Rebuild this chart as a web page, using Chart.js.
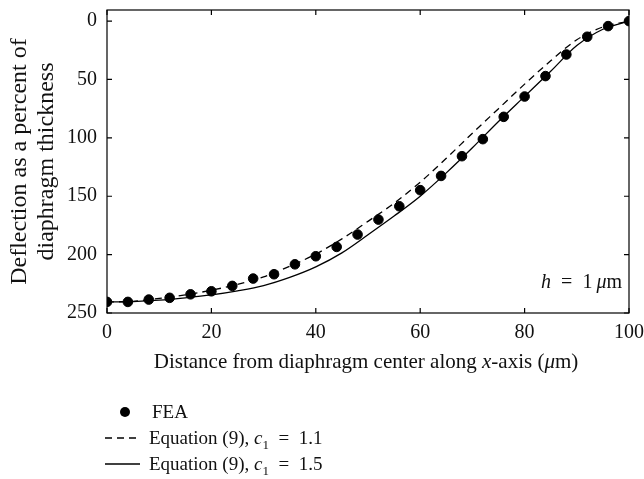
<!DOCTYPE html>
<html>
<head>
<meta charset="utf-8">
<script src="https://cdn.jsdelivr.net/npm/chart.js@4.4.1/dist/chart.umd.min.js"></script>
<style>
  body { margin: 0; background: #fff; }
  #wrap { position: relative; width: 644px; height: 479px; }
  #legend { position: absolute; left: 100px; top: 399px; font: 19px 'Liberation Serif', serif; color: #111; }
  .row { position: relative; height: 26px; line-height: 26px; white-space: nowrap; }
  .key { position: absolute; left: 4px; top: 0; width: 36px; height: 26px; }
  .txt { position: absolute; left: 49px; top: 0; }
  .dot { position: absolute; left: 16px; top: 8px; width: 10px; height: 10px; border-radius: 50%; background: #000; }
  sub { font-size: 13px; line-height: 0; }
</style>
</head>
<body>
<div id="wrap">
  <canvas id="myChart" width="644" height="479"></canvas>
  <div id="legend">
    <div class="row"><span class="key"><span class="dot"></span></span><span class="txt" style="left:52px">FEA</span></div>
    <div class="row"><span class="key"><svg width="36" height="26"><line x1="1" y1="13" x2="36" y2="13" stroke="#000" stroke-width="1.3" stroke-dasharray="7,5"/></svg></span><span class="txt">Equation (9), <i>c</i><sub>1</sub>&nbsp; = &nbsp;1.1</span></div>
    <div class="row"><span class="key"><svg width="36" height="26"><line x1="1" y1="13" x2="36" y2="13" stroke="#000" stroke-width="1.3"/></svg></span><span class="txt">Equation (9), <i>c</i><sub>1</sub>&nbsp; = &nbsp;1.5</span></div>
  </div>
</div>
<script>
let ctx = document.getElementById('myChart').getContext('2d');

// FEA nodes every 4 um
let feaX = [0, 4, 8, 12, 16, 20, 24, 28, 32, 36, 40, 44, 48, 52, 56, 60, 64, 68, 72, 76, 80, 84, 88, 92, 96, 100];
let feaY = [240.5, 240.5, 238.5, 237, 234, 231.4, 226.8, 220.5, 216.8, 208.3, 201.4, 193.4, 182.8, 170, 158.6, 144.8, 132.6, 115.7, 101.1, 82, 64.6, 47.1, 28.6, 13.4, 4.3, 0];

// equation (9) curves
let eqX = [0, 5, 10, 15, 20, 25, 30, 35, 40, 45, 50, 55, 60, 65, 70, 75, 80, 85, 90, 95, 100];
let eqC11 = [240.5, 240, 237.5, 234.5, 230.5, 225.5, 219, 210, 199.5, 186.5, 171.5, 156, 138, 117.5, 96, 75, 54, 34, 16, 5, 0];
let eqC15 = [240.5, 240.2, 239, 237, 234.5, 231, 226.5, 219.5, 210.5, 198.5, 183, 167, 150, 130, 108.5, 86, 64.5, 43, 21, 7, 0];

let xTicks = [0, 20, 40, 60, 80, 100];
let yTicks = [0, 50, 100, 150, 200, 250];

function pts(xs, ys) {
    return xs.map((x, i) => ({ x: x, y: ys[i] }));
}

let serif = "'Liberation Serif', serif";

// writes a run of [text, style] pieces starting at x
function drawRich(c, parts, x, y, size) {
    parts.forEach(p => {
        c.font = p[1] + size + 'px ' + serif;
        c.fillText(p[0], x, y);
        x += c.measureText(p[0]).width;
    });
}
function richWidth(c, parts, size) {
    let w = 0;
    parts.forEach(p => {
        c.font = p[1] + size + 'px ' + serif;
        w += c.measureText(p[0]).width;
    });
    return w;
}

// inward ticks on all four sides, frame, x title and h label
let framePlugin = {
    id: 'frame',
    afterDraw(chart) {
        let c = chart.ctx;
        let a = chart.chartArea;
        let xs = chart.scales.x;
        let ys = chart.scales.y;
        c.save();
        c.strokeStyle = '#000';
        c.lineWidth = 1.2;
        c.strokeRect(a.left, a.top, a.right - a.left, a.bottom - a.top);
        c.beginPath();
        xTicks.forEach(v => {
            let px = xs.getPixelForValue(v);
            c.moveTo(px, a.bottom); c.lineTo(px, a.bottom - 5);
            c.moveTo(px, a.top); c.lineTo(px, a.top + 5);
        });
        yTicks.forEach(v => {
            let py = ys.getPixelForValue(v);
            c.moveTo(a.left, py); c.lineTo(a.left + 5, py);
            c.moveTo(a.right, py); c.lineTo(a.right - 5, py);
        });
        c.stroke();

        c.fillStyle = '#111';
        c.textBaseline = 'middle';

        let xTitle = [['Distance from diaphragm center along ', ''], ['x', 'italic '], ['-axis (', ''], ['\u03bc', 'italic '], ['m)', '']];
        let tw = richWidth(c, xTitle, 21);
        drawRich(c, xTitle, 366 - tw / 2, a.bottom + 49, 21);

        let hLabel = [['h', 'italic '], ['\u2002=\u20021\u2009', ''], ['\u03bc', 'italic '], ['m', '']];
        let hw = richWidth(c, hLabel, 20);
        drawRich(c, hLabel, a.right - 7 - hw, a.bottom - 30, 20);
        c.restore();
    }
};

let myChart = new Chart(ctx, {
    type: 'scatter',
    data: {
        datasets: [
            {
                label: 'FEA',
                data: pts(feaX, feaY),
                backgroundColor: '#000',
                borderColor: '#000',
                pointRadius: 4.8,
                showLine: false,
                order: 0
            },
            {
                label: 'Equation (9), c1 = 1.1',
                data: pts(eqX, eqC11),
                borderColor: '#000',
                borderWidth: 1.3,
                borderDash: [7, 5],
                pointRadius: 0,
                showLine: true,
                cubicInterpolationMode: 'monotone',
                order: 1
            },
            {
                label: 'Equation (9), c1 = 1.5',
                data: pts(eqX, eqC15),
                borderColor: '#000',
                borderWidth: 1.3,
                pointRadius: 0,
                showLine: true,
                cubicInterpolationMode: 'monotone',
                order: 2
            }
        ]
    },
    options: {
        responsive: false,
        animation: false,
        layout: { padding: { left: 0, top: 10, right: 15, bottom: 100 } },
        plugins: {
            legend: { display: false },
            tooltip: { enabled: false }
        },
        scales: {
            x: {
                type: 'linear',
                min: 0,
                max: 100,
                grid: { display: false, drawTicks: false },
                border: { display: false },
                afterBuildTicks: s => { s.ticks = xTicks.map(v => ({ value: v })); },
                afterFit: s => { s.height = 66; s.paddingLeft = 0; s.paddingRight = 0; },
                ticks: { color: '#111', padding: 8, maxRotation: 0, font: { family: serif, size: 20 } }
            },
            y: {
                type: 'linear',
                min: -9.5,
                max: 250,
                reverse: true,
                grid: { display: false, drawTicks: false },
                border: { display: false },
                afterBuildTicks: s => { s.ticks = yTicks.map(v => ({ value: v })); },
                afterFit: s => { s.width = 107; s.paddingTop = 0; s.paddingBottom = 0; },
                ticks: { color: '#111', padding: 10, font: { family: serif, size: 20 } },
                title: {
                    display: true,
                    text: ['Deflection as a percent of', 'diaphragm thickness'],
                    color: '#111',
                    padding: { top: 6, bottom: 0 },
                    font: { family: serif, size: 24, lineHeight: 1.12 }
                }
            }
        }
    },
    plugins: [framePlugin]
});
</script>
</body>
</html>
